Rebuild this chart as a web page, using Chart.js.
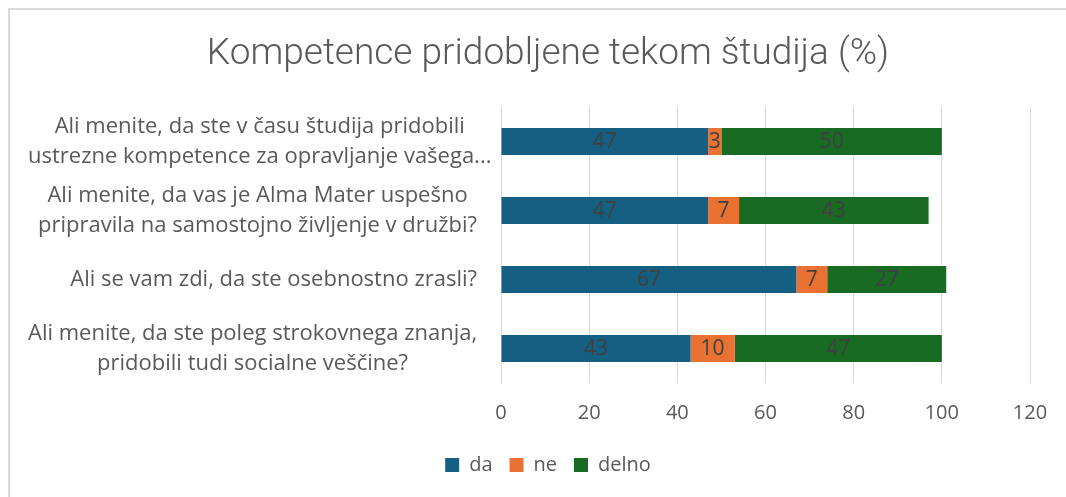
<!DOCTYPE html>
<html><head><meta charset="utf-8">
<script src="https://cdn.jsdelivr.net/npm/chart.js@4"></script>
<style>
html,body{margin:0;padding:0;background:#fff;overflow:hidden;}
#wrap{position:absolute;left:0;top:0;width:1066px;height:497px;}
#frame{position:absolute;left:8px;top:8px;width:1058px;height:489px;border-left:2px solid #D9D9D9;border-top:2px solid #D9D9D9;box-sizing:border-box;pointer-events:none;}
canvas{position:absolute;left:0;top:0;}
</style></head><body>
<div id="wrap"><canvas id="c" width="1066" height="497"></canvas><div id="frame"></div></div>
<script>
const categories = [
  ["Ali menite, da ste v času študija pridobili", "ustrezne kompetence za opravljanje vašega..."],
  ["Ali menite, da vas je Alma Mater uspešno", "pripravila na samostojno življenje v družbi?"],
  "Ali se vam zdi, da ste osebnostno zrasli?",
  ["Ali menite, da ste poleg strokovnega znanja,", "pridobili tudi socialne veščine?"]
];
const seriesNames = ["da", "ne", "delno"];
const da = [47, 47, 67, 43];
const ne = [3, 7, 7, 10];
const delno = [50, 43, 27, 47];
const xTickValues = [0, 20, 40, 60, 80, 100, 120];
const titleText = "Kompetence pridobljene tekom študija (%)";

const FONT = '"Open Sans", "Liberation Sans", sans-serif';

const yLabelPlugin = {
  id: 'yLabels',
  afterDraw(chart) {
    const s = chart.scales.y, ctx = chart.ctx;
    ctx.save();
    ctx.font = '22px ' + FONT;
    ctx.fillStyle = '#595959';
    ctx.textAlign = 'center';
    ctx.textBaseline = 'middle';
    const lh = 30;
    const right = chart.chartArea.left - 24;
    const leftMin = 28;
    s.ticks.forEach((t, i) => {
      const lab = chart.data.labels[t.value];
      const lines = Array.isArray(lab) ? lab : [lab];
      const w = Math.max(...lines.map(l => ctx.measureText(l).width));
      const cx = Math.max(right - w / 2, leftMin + w / 2);
      const y0 = s.getPixelForTick(i) - (lines.length - 1) * lh / 2;
      lines.forEach((l, j) => ctx.fillText(l, cx, y0 + j * lh));
    });
    ctx.restore();
  }
};

const dataLabelPlugin = {
  id: 'dataLabels',
  afterDatasetsDraw(chart) {
    const ctx = chart.ctx;
    ctx.save();
    ctx.font = '21px ' + FONT;
    ctx.fillStyle = '#404040';
    ctx.textAlign = 'center';
    ctx.textBaseline = 'middle';
    chart.data.datasets.forEach((ds, di) => {
      const meta = chart.getDatasetMeta(di);
      meta.data.forEach((el, i) => {
        const p = el.getProps(['x', 'y', 'base'], true);
        ctx.fillText(String(ds.data[i]), (p.x + p.base) / 2, p.y + 1);
      });
    });
    ctx.restore();
  }
};

new Chart(document.getElementById('c'), {
  type: 'bar',
  data: {
    labels: categories,
    datasets: [
      { label: seriesNames[0], data: da, backgroundColor: '#156082' },
      { label: seriesNames[1], data: ne, backgroundColor: '#E97132' },
      { label: seriesNames[2], data: delno, backgroundColor: '#196B24' }
    ]
  },
  options: {
    indexAxis: 'y',
    responsive: false,
    animation: false,
    devicePixelRatio: 1,
    layout: { padding: { left: 66, right: 36, top: 0, bottom: 12 } },
    datasets: { bar: { categoryPercentage: 0.8, barPercentage: 0.49, borderWidth: 0 } },
    scales: {
      x: {
        stacked: true,
        min: 0, max: 120,
        afterBuildTicks(scale) { scale.ticks = xTickValues.map(v => ({ value: v })); },
        afterFit(scale) { scale.height = 55; },
        grid: { color: '#D9D9D9', lineWidth: 1, drawTicks: false },
        border: { display: false },
        ticks: { color: '#595959', font: { family: FONT, size: 20 }, padding: 18 }
      },
      y: {
        stacked: true,
        afterFit(scale) { scale.width = 435; },
        grid: { display: false },
        border: { display: true, color: '#D9D9D9', width: 1 },
        ticks: { display: false }
      }
    },
    plugins: {
      title: {
        display: true,
        text: titleText,
        color: '#595959',
        font: { family: 'Roboto, "Liberation Sans", sans-serif', size: 37, weight: '300', lineHeight: 1.2 },
        padding: { top: 33, bottom: 29.6 }
      },
      legend: {
        position: 'bottom',
        labels: {
          color: '#595959',
          font: { family: FONT, size: 20 },
          boxWidth: 14, boxHeight: 14,
          padding: 17
        }
      },
      tooltip: { enabled: false }
    }
  },
  plugins: [yLabelPlugin, dataLabelPlugin]
});
</script>
</body></html>
